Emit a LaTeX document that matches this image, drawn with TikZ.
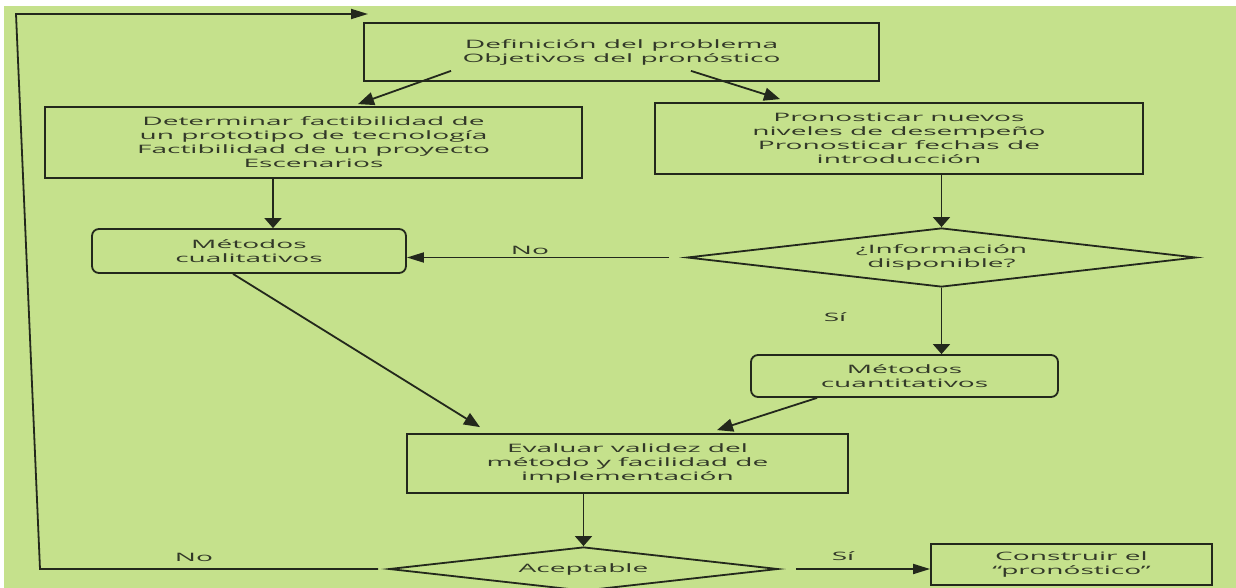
\documentclass[tikz,border=0pt]{standalone}
\usepackage{fontspec}
\setmainfont{Open Sans}[FakeStretch=2.42]
\usetikzlibrary{shapes.geometric,arrows.meta,calc}
\definecolor{paper}{RGB}{197,225,140}
\definecolor{ink}{RGB}{35,40,28}
\definecolor{txt}{RGB}{50,56,40}
\begin{document}
\begin{tikzpicture}[x=1pt,y=-1pt,
  every node/.style={font=\fontsize{11.6}{14}\selectfont, text=txt},
  box/.style={draw=ink, line width=1.8pt, inner sep=0pt, align=center},
  rbox/.style={box, rounded corners=7pt},
  dec/.style={draw=ink, line width=1.8pt, diamond, inner sep=0pt},
  lbl/.style={inner sep=0pt, align=center},
  link/.style={draw=ink, line width=1.8pt},
  arrv/.style={link, -{Triangle[length=10pt,width=17pt]}},
  arrh/.style={link, -{Triangle[length=17pt,width=10pt]}},
  arrd/.style={link, -{Triangle[length=16pt,width=13pt]}}
]
% page and paper
\fill[white] (0,0) rectangle (1236,588);
\fill[paper] (4,6) rectangle (1236,588);
\useasboundingbox (0,0) rectangle (1236,588);

% process boxes and decisions
\node[box, minimum width=515pt, minimum height=58pt] (def) at (621.5,52)
  {Definición del problema\\Objetivos del pronóstico};
\node[box, minimum width=537pt, minimum height=71pt] (det) at (313.5,142.5)
  {Determinar factibilidad de\\un prototipo de tecnología\\Factibilidad de un proyecto\\Escenarios};
\node[box, minimum width=488pt, minimum height=71pt] (pro) at (899,138.5)
  {Pronosticar nuevos\\niveles de desempeño\\Pronosticar fechas de\\introducción};
\node[rbox, minimum width=314pt, minimum height=44pt] (cual) at (249,251)
  {Métodos\\cualitativos};
\node[dec, minimum width=509pt, minimum height=59pt,
  label={[lbl]center:{¿Información\\disponible?}}] (info) at (941.5,257.5) {};
\node[rbox, minimum width=307pt, minimum height=42pt] (cuant) at (904.5,376)
  {Métodos\\cuantitativos};
\node[box, minimum width=441pt, minimum height=59pt] (eval) at (627.5,463.5)
  {Evaluar validez del\\método y facilidad de\\implementación};
\node[dec, minimum width=389pt, minimum height=44pt,
  label={[lbl]center:Aceptable}] (acep) at (583.5,569) {};
\node[box, minimum width=281pt, minimum height=41pt] (cons) at (1071.5,564.5)
  {Construir el\\“pronóstico”};

% branch labels
\node[lbl] (noA) at (530,250) {No};
\node[lbl] (siA) at (835,317) {Sí};
\node[lbl] (noB) at (194,557) {No};
\node[lbl] (siB) at (843,556) {Sí};

% connectors
\draw[arrd] ([shift={(-170.5,-11)}]def.south) -- ([shift={(44.5,-2)}]det.north);
\draw[arrd] ([shift={(69.5,-11)}]def.south) -- ([shift={(-119,-3)}]pro.north);
\draw[arrv] ([xshift=-40.5pt]det.south) -- ([xshift=24pt]cual.north);
\draw[arrv] (info.north |- pro.south) -- (info.north);
\draw[arrh] ([xshift=-17pt]info.west) -- (cual.east |- info.west);
\draw[arrv] (info.south) -- (info.south |- cuant.north);
\draw[arrd] ([xshift=-87.5pt]cuant.south) -- ([shift={(89.5,-3)}]eval.north);
\draw[arrd] ([xshift=-16pt]cual.south) -- ([shift={(-147.5,-6)}]eval.north);
\draw[arrv] (acep.north |- eval.south) -- (acep.north);
\draw[arrh] ([xshift=17pt]acep.east) -- (cons.west |- acep.east);

% feedback loop back to the start
\coordinate (cornerB) at (40,569);
\coordinate (cornerT) at (16,14);
\coordinate (backIn) at (368,14);
\draw[arrh] ([xshift=-10pt]acep.west) -- (cornerB) -- (cornerT) -- (backIn);
\end{tikzpicture}
\end{document}
